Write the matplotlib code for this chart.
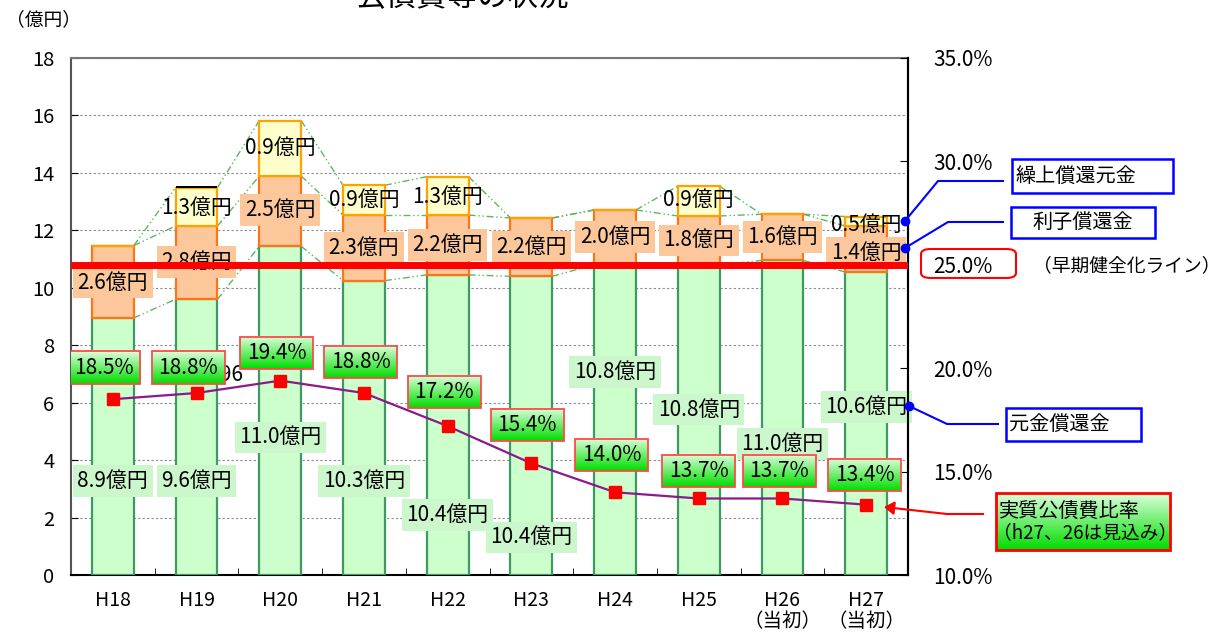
import numpy as np
import matplotlib.pyplot as plt
from matplotlib.patches import Rectangle, FancyBboxPatch, FancyArrowPatch
from matplotlib.lines import Line2D
from matplotlib.colors import LinearSegmentedColormap

plt.rcParams['font.family'] = ['Noto Sans CJK JP', 'DejaVu Sans']

years = ['H18', 'H19', 'H20', 'H21', 'H22', 'H23', 'H24', 'H25', 'H26\n（当初）', 'H27\n（当初）']
# bar heights as drawn (億円)
principal = [8.95, 9.6, 11.45, 10.25, 10.45, 10.4, 10.8, 10.8, 10.95, 10.55]   # 元金償還金
interest = [2.52, 2.55, 2.44, 2.28, 2.08, 2.03, 1.91, 1.7, 1.61, 1.6]         # 利子償還金
early = [0, 1.34, 1.93, 1.04, 1.34, 0, 0, 1.04, 0, 0.33]                      # 繰上償還元金
other = [0, 0.07, 0, 0, 0, 0, 0, 0, 0, 0]
ratio = [18.5, 18.8, 19.4, 18.8, 17.2, 15.4, 14.0, 13.7, 13.7, 13.4]          # 実質公債費比率 %

# label texts as printed on the chart
principal_lbl = ['8.9', '9.6', '11.0', '10.3', '10.4', '10.4', '10.8', '10.8', '11.0', '10.6']
interest_lbl = ['2.6', '2.8', '2.5', '2.3', '2.2', '2.2', '2.0', '1.8', '1.6', '1.4']
early_lbl = ['', '1.3', '0.9', '0.9', '1.3', '', '', '0.9', '', '0.5']

# label placement (layout only)
principal_y = [3.27, 3.27, 4.8, 3.27, 2.09, 1.32, 7.07, 5.75, 4.56, 5.85]
interest_y = [10.17, 10.9, 12.71, 11.39, 11.49, 11.42, 11.77, 11.66, 11.77, 11.21]
early_y = [0, 12.78, 14.87, 13.06, 13.17, 0, 0, 13.06, 0, 12.19]
ratio_y = [20.03, 20.03, 20.74, 20.3, 18.85, 17.27, 15.82, 15.03, 15.03, 14.84]
ratio_dx = [-0.11, -0.1, -0.04, -0.04, -0.04, -0.05, -0.04, 0, -0.04, -0.02]

FS = 15
W, H = 1224, 633
fig = plt.figure(figsize=(W / 100, H / 100), dpi=100)
fig.subplots_adjust(left=71 / W, right=908 / W, bottom=1 - 575 / H, top=1 - 58 / H)
ax = fig.add_subplot(111)


def P(px, py):
    return (px / W, 1 - py / H)


x = np.arange(len(years))
w = 0.5
c1 = np.array(principal)
c2 = c1 + np.array(interest)
c3 = c2 + np.array(early)

ax.bar(x, principal, w, color='#ccffcc', edgecolor='#3d9a63', lw=1.6, zorder=3)
ax.bar(x, interest, w, bottom=c1, color='#fcc89b', edgecolor='#ff7415', lw=1.6, zorder=3)
ax.bar(x, early, w, bottom=c2, color='#ffffcc', edgecolor='#ffa200', lw=1.6, zorder=3)
ax.bar(x, other, w, bottom=c3, color='black', lw=0, zorder=3)

# series lines between bars
for top in (c1, c2, c3):
    for i in range(len(x) - 1):
        ax.plot([x[i] + w / 2, x[i + 1] - w / 2], [top[i], top[i + 1]], color='#5cb85c',
                lw=1, dashes=[5, 2, 1, 2, 1, 2], zorder=2)

for i in x:
    ax.text(i, principal_y[i], principal_lbl[i] + '億円', ha='center', va='center', fontsize=FS,
            bbox=dict(boxstyle='square,pad=0.22', fc='#ccf7cc', ec='none'), zorder=5)
    ax.text(i, interest_y[i], interest_lbl[i] + '億円', ha='center', va='center', fontsize=FS,
            bbox=dict(boxstyle='square,pad=0.22', fc='#fcc89b', ec='none'), zorder=5)
    if early_lbl[i]:
        ax.text(i, early_y[i], early_lbl[i] + '億円', ha='center', va='center', fontsize=FS, zorder=5)

ax.set_xlim(-0.5, len(x) - 0.5)
ax.set_ylim(0, 18)
ax.set_yticks(range(0, 19, 2))
ax.yaxis.grid(True, linestyle=(0, (2, 2)), color='#8a8a8a', lw=0.8, zorder=0)
ax.set_axisbelow(True)
ax.set_xticks(x)
ax.set_xticklabels(years, fontsize=14, linespacing=1.0)
ax.set_xticks(np.arange(-0.5, len(x), 1), minor=True)
ax.tick_params(axis='x', which='major', length=0, pad=11)
ax.tick_params(axis='x', which='minor', direction='in', length=5)
ax.tick_params(axis='y', direction='in', length=5, labelsize=14.5, pad=12)
ax.spines['left'].set_color('#555555')
ax.spines['top'].set_color('#777777')
for s in ax.spines.values():
    s.set_linewidth(1.5)

ax2 = ax.twinx()
ax2.axhline(25, color='#ff0000', lw=5, zorder=3)
ax2.plot(x, ratio, color='#8b1a8b', lw=1.6, marker='s', ms=9, mfc='#ff0000', mec='#ff0000', zorder=4)
ax2.text(1.56, 19.67, '0.02196', ha='right', va='center', fontsize=FS, zorder=4.5)

grad = LinearSegmentedColormap.from_list('g', ['#dcffdc', '#00dd00'])
gimg = np.linspace(0, 1, 50).reshape(-1, 1)
hw, hh = 0.436, 0.78
for i in x:
    cx = i + ratio_dx[i]
    cy = ratio_y[i]
    ax2.imshow(gimg, cmap=grad, extent=[cx - hw, cx + hw, cy - hh, cy + hh], origin='upper',
               aspect='auto', zorder=5)
    ax2.add_patch(Rectangle((cx - hw, cy - hh), 2 * hw, 2 * hh, fc='none', ec='#ff4a4a', lw=1.3, zorder=5.5))
    ax2.text(cx, cy, f'{ratio[i]:.1f}%', ha='center', va='center', fontsize=FS, zorder=6)

ax2.set_xlim(-0.5, len(x) - 0.5)
ax2.set_ylim(10, 35)
ax2.set_yticks(range(10, 36, 5))
ax2.set_yticklabels([f'{v:.1f}%' for v in range(10, 36, 5)])
ax2.tick_params(axis='y', direction='in', length=6, labelsize=15, pad=18)
for k in ('left', 'top', 'bottom'):
    ax2.spines[k].set_visible(False)
ax2.spines['right'].set_color('black')
ax2.spines['right'].set_linewidth(1.5)

# title (cut at the top edge) and unit
fig.text(462 / W, 1 - 13 / H, '公債費等の状況', ha='center', va='bottom', fontsize=22)
fig.text(6 / W, 1 - 20 / H, '（億円）', ha='left', va='center', fontsize=13.5)


# right side callouts
def callout(pts, box, label, tx, ha='left'):
    xs, ys = zip(*[P(*p) for p in pts])
    fig.add_artist(Line2D(xs, ys, color='#0000ff', lw=1.5, marker='o', ms=6, markevery=[0],
                          transform=fig.transFigure))
    x0, y0, x1, y1 = box
    fig.add_artist(Rectangle(P(x0, y1), (x1 - x0) / W, (y1 - y0) / H, fc='white', ec='#0000ff',
                             lw=1.8, transform=fig.transFigure))
    fig.text(*P(tx, (y0 + y1) / 2), label, ha=ha, va='center', fontsize=14.5)


callout([(905, 221), (938, 181), (1003, 181)], (1012, 159, 1173, 193), '繰上償還元金', 1015)
callout([(905, 248), (948, 222), (1003, 222)], (1011, 207, 1155, 238), '利子償還金', 1083, 'center')
callout([(909, 406), (947, 424), (998, 424)], (1006, 408, 1141, 441), '元金償還金', 1009)

fig.add_artist(FancyBboxPatch(P(921, 278), 95 / W, 29 / H, boxstyle='round,pad=0,rounding_size=0.008',
                              fc='none', ec='#ff0000', lw=1.5, transform=fig.transFigure))
fig.text(*P(1033, 266), '（早期健全化ライン）', ha='left', va='center', fontsize=13.5)

# 実質公債費比率 box with gradient
gx0, gy0, gx1, gy1 = 996, 493, 1170, 550
gax = fig.add_axes([gx0 / W, 1 - gy1 / H, (gx1 - gx0) / W, (gy1 - gy0) / H])
gax.imshow(gimg, cmap=grad, aspect='auto')
gax.set_axis_off()
fig.add_artist(Rectangle(P(gx0, gy1), (gx1 - gx0) / W, (gy1 - gy0) / H, fc='none', ec='#ff0000',
                         lw=2, transform=fig.transFigure))
fig.text(*P(999, 511), '実質公債費比率', ha='left', va='center', fontsize=14.5)
fig.text(*P(993, 533), '（h27、26は見込み）', ha='left', va='center', fontsize=13.5)
xs, ys = zip(P(983, 514), P(947, 514))
fig.add_artist(Line2D(xs, ys, color='#ff0000', lw=1.5, transform=fig.transFigure))
fig.add_artist(FancyArrowPatch(P(947, 514), P(884, 507), arrowstyle='-|>,head_length=6,head_width=4',
                               color='#ff0000', lw=1.5, transform=fig.transFigure, shrinkA=0, shrinkB=0))

plt.savefig('out.png', dpi=100)
